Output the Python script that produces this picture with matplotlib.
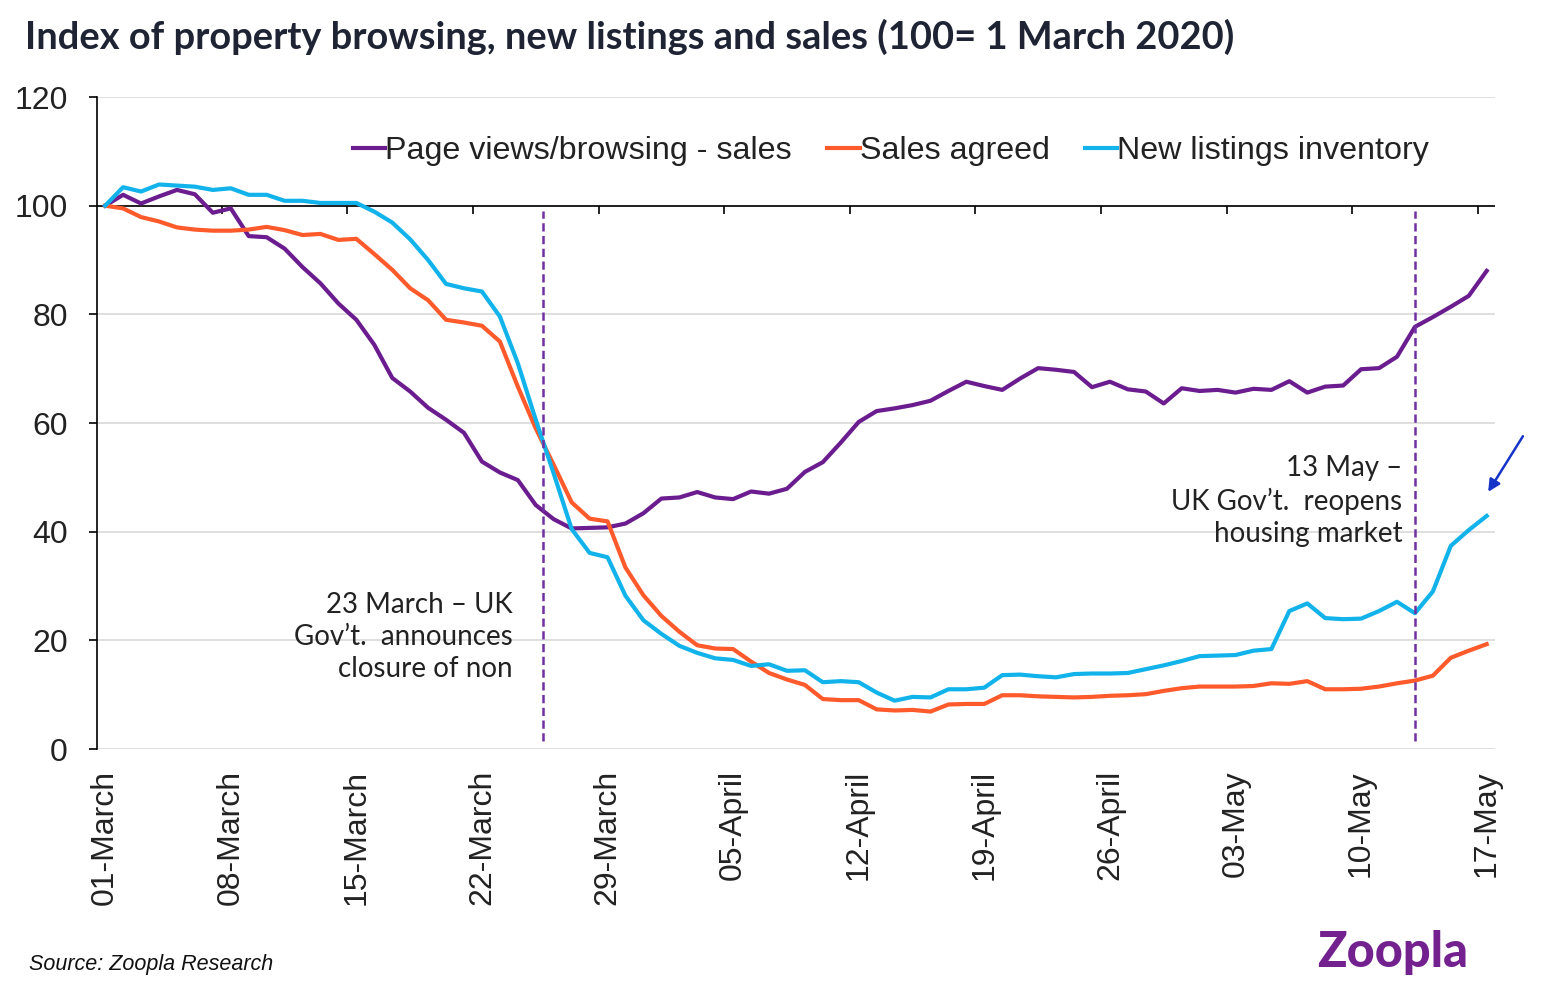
import matplotlib
matplotlib.use("Agg")
import matplotlib.pyplot as plt

# daily index values, 01-March .. 17-May 2020 (78 days)
page_views = [100, 102.0, 100.4, 101.7, 102.9, 102.1, 98.7, 99.5, 94.4, 94.2,
              92.1, 88.7, 85.7, 82.0, 79.0, 74.4, 68.3, 65.8, 62.8, 60.6,
              58.2, 52.9, 50.9, 49.5, 44.9, 42.3, 40.6, 40.7, 40.8, 41.5,
              43.4, 46.1, 46.3, 47.3, 46.3, 46.0, 47.4, 47.0, 47.9, 51.0,
              52.8, 56.4, 60.2, 62.2, 62.7, 63.3, 64.1, 65.9, 67.6, 66.8,
              66.1, 68.2, 70.1, 69.8, 69.4, 66.6, 67.6, 66.2, 65.8, 63.6,
              66.4, 65.9, 66.1, 65.6, 66.3, 66.1, 67.7, 65.6, 66.7, 66.9,
              69.9, 70.1, 72.2, 77.7, 79.5, 81.4, 83.4, 88.0]
sales_agreed = [100, 99.5, 97.9, 97.1, 96.0, 95.6, 95.4, 95.4, 95.6, 96.1,
                95.5, 94.6, 94.8, 93.7, 93.9, 91.1, 88.2, 84.8, 82.6, 79.0,
                78.5, 77.9, 75.0, 66.7, 59.0, 52.3, 45.4, 42.4, 41.9, 33.4,
                28.3, 24.5, 21.6, 19.1, 18.5, 18.4, 16.1, 14.0, 12.8, 11.8,
                9.2, 9.0, 9.0, 7.3, 7.1, 7.2, 6.9, 8.2, 8.3, 8.3,
                9.9, 9.9, 9.7, 9.6, 9.5, 9.6, 9.8, 9.9, 10.1, 10.7,
                11.2, 11.5, 11.5, 11.5, 11.6, 12.1, 12.0, 12.5, 11.0, 11.0,
                11.1, 11.5, 12.1, 12.6, 13.5, 16.8, 18.1, 19.3]
new_listings = [100, 103.4, 102.6, 103.9, 103.7, 103.5, 102.9, 103.2, 102.0, 102.0,
                100.9, 100.9, 100.5, 100.5, 100.5, 98.9, 96.9, 93.8, 90.0, 85.6,
                84.8, 84.2, 79.6, 71.0, 60.6, 50.7, 40.5, 36.1, 35.3, 28.2,
                23.7, 21.2, 19.0, 17.7, 16.7, 16.4, 15.3, 15.6, 14.4, 14.5,
                12.3, 12.5, 12.3, 10.4, 8.9, 9.6, 9.5, 11.0, 11.0, 11.3,
                13.6, 13.7, 13.4, 13.2, 13.8, 13.9, 13.9, 14.0, 14.7, 15.4,
                16.2, 17.1, 17.2, 17.3, 18.1, 18.4, 25.4, 26.8, 24.1, 23.9,
                24.0, 25.4, 27.1, 25.0, 29.0, 37.4, 40.3, 42.9]

tick_labels = ["01-March", "08-March", "15-March", "22-March", "29-March",
               "05-April", "12-April", "19-April", "26-April", "03-May",
               "10-May", "17-May"]
tick_pos = [0, 7, 14, 21, 28, 35, 42, 49, 56, 63, 70, 77]
# category boundaries where the tick marks sit
tick_marks = [6.5, 13.5, 20.5, 27.5, 34.5, 41.5, 48.5, 55.5, 62.5, 69.5, 76.5]
event_x = [24.4, 73.0]

purple = "#6B1D8F"
orange = "#FF5A2B"
cyan = "#12B2EA"

days = list(range(len(page_views)))

fig = plt.figure(figsize=(15.41, 9.97), dpi=100)
ax = fig.add_axes([0.063, 0.2487, 0.907, 0.654])

ax.set_ylim(0, 120)
ax.set_xlim(-0.45, 77.45)
ax.set_yticks(range(0, 121, 20))
ax.yaxis.grid(True, color="#D9D9D9", lw=1.2)
ax.set_axisbelow(True)

for s in ["top", "right", "bottom"]:
    ax.spines[s].set_visible(False)
ax.spines["left"].set_color("black")
ax.spines["left"].set_linewidth(1.2)

# horizontal axis crosses at 100
ax.axhline(100, color="black", lw=1.2, zorder=2)
ax.vlines(tick_marks, 98.5, 100, color="black", lw=1.2, zorder=2)

ax.plot(days, page_views, color=purple, lw=3, label="Page views/browsing - sales", zorder=3)
ax.plot(days, sales_agreed, color=orange, lw=3, label="Sales agreed", zorder=3)
ax.plot(days, new_listings, color=cyan, lw=3, label="New listings inventory", zorder=3)

for ex in event_x:
    ax.vlines(ex, 1.5, 99, color="#7030A0", lw=1.8, linestyles=(0, (3.3, 1.8)), zorder=4)

ax.set_xticks(tick_pos)
ax.set_xticklabels(tick_labels, rotation=90, family="Liberation Sans", fontsize=23, color="#222222")
ax.tick_params(axis="x", length=0, pad=15)
ax.tick_params(axis="y", length=6, width=1.2, pad=15, labelsize=23, labelcolor="#222222", direction="out")
for t in ax.get_yticklabels():
    t.set_family("Liberation Sans")

leg = ax.legend(loc="center", bbox_to_anchor=(0.568, 0.917), ncol=3, frameon=False,
                handlelength=1.0, handletextpad=0.0, columnspacing=1.1,
                prop={"family": "Liberation Sans", "size": 23.2})
for t in leg.get_texts():
    t.set_color("#222222")

ax.text(22.7, 20.6, "23 March \u2013 UK\nGov\u2019t.  announces\nclosure of non",
        ha="right", va="center", family="Lato", fontsize=20, linespacing=1.3, color="#222222")
ax.text(72.3, 45.6, "13 May \u2013\nUK Gov\u2019t.  reopens\nhousing market",
        ha="right", va="center", family="Lato", fontsize=20, linespacing=1.3, color="#222222")

ax.annotate("", xy=(77.0, 46.9), xytext=(79.1, 58.0), annotation_clip=False,
            arrowprops=dict(arrowstyle="-|>", color="#1634C8", lw=1.8, mutation_scale=18))

fig.text(0.016, 0.963, "Index of property browsing, new listings and sales (100= 1 March 2020)",
         family="Lato", weight="bold", fontsize=27.4, color="#1E2433", va="center")
fig.text(0.019, 0.033, "Source: Zoopla Research", family="Liberation Sans", style="italic",
         fontsize=15.5, color="#111111", va="center")
fig.text(0.953, 0.045, "Zoopla", family="Lato", weight="black", fontsize=35,
         color="#72218F", ha="right", va="center")

fig.savefig("out.png", dpi=100)
